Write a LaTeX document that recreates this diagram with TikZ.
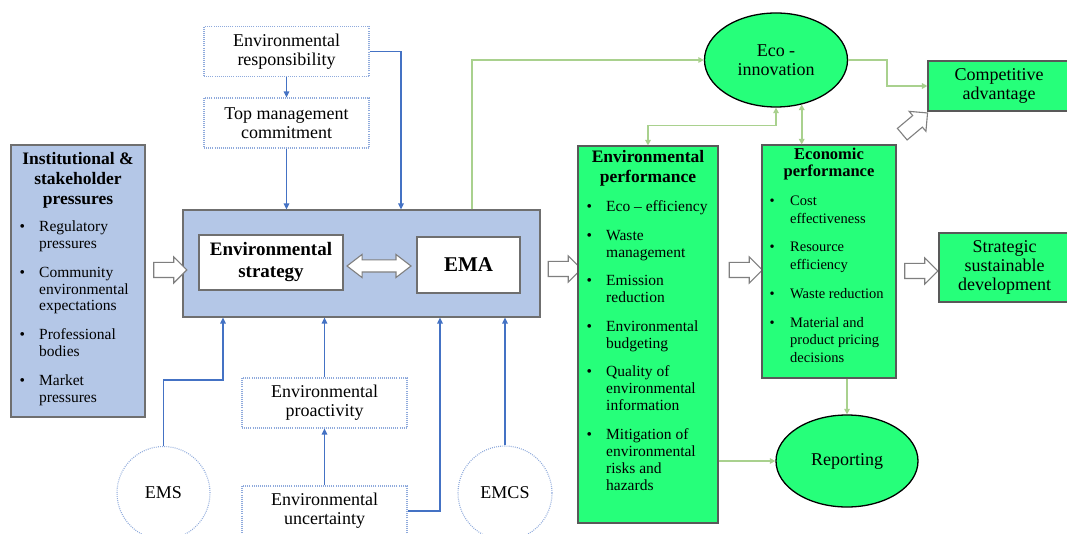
\documentclass[tikz,border=0pt]{standalone}
\usepackage{fontspec}
\setmainfont{Liberation Serif}
\usetikzlibrary{shapes.geometric,shapes.arrows,arrows.meta}
\definecolor{lblue}{HTML}{B4C7E7}
\definecolor{blueline}{HTML}{4472C4}
\definecolor{dotblue}{HTML}{8FAADC}
\definecolor{greenline}{HTML}{A9D18E}
\definecolor{bgreen}{RGB}{38,255,122}
\definecolor{boxgray}{HTML}{6F6F6F}
\definecolor{arrowgray}{HTML}{7F7F7F}
\newcommand\fmain{\fontsize{18}{19}\selectfont}
\tikzset{
  bl/.style={draw=blueline, line width=1.6pt, -{Triangle[length=6pt,width=5.5pt]}},
  gr/.style={draw=greenline, line width=1.6pt, -{Triangle[length=5.5pt,width=5.5pt]}},
  grboth/.style={draw=greenline, line width=1.6pt, {Triangle[length=5.5pt,width=5.5pt]}-{Triangle[length=5.5pt,width=5.5pt]}},
  dotbox/.style={draw=dotblue, dash pattern=on 0.9pt off 1.2pt, line width=1.1pt, minimum width=165pt, minimum height=50pt, align=center, font=\fmain, inner sep=0pt},
  dotcirc/.style={circle, draw=dotblue, dash pattern=on 0.9pt off 1.2pt, line width=1.1pt, font=\fmain, inner sep=0pt},
  bluebox/.style={draw=boxgray, fill=lblue, line width=1.1pt, inner sep=0pt},
  whitebox/.style={draw=boxgray, fill=white, line width=1.1pt, inner sep=0pt, align=center},
  greenbox/.style={draw=boxgray!80!black, fill=bgreen, line width=1.1pt, inner sep=0pt, align=center, font=\fmain},
  greenell/.style={ellipse, draw=black, fill=bgreen, line width=1.3pt, inner sep=0pt, align=center, font=\fmain},
  txt/.style={inner sep=0pt, align=center},
  lst/.style={inner sep=0pt, anchor=north west},
  blockarr/.style={single arrow, draw=arrowgray, fill=white, line width=1.1pt, minimum height=33pt, minimum width=1pt, inner xsep=0pt, inner ysep=7pt, single arrow head extend=5.5pt, single arrow head indent=0pt},
  dblarr/.style={double arrow, draw=arrowgray, fill=white, line width=1.1pt, minimum height=64pt, minimum width=1pt, inner xsep=0pt, inner ysep=5.5pt, double arrow head extend=5.5pt, double arrow tip angle=75}
}
\begin{document}
\begin{tikzpicture}[x=1pt,y=-1pt]
\useasboundingbox (0,0) rectangle (1067,534);
\clip (0,0) rectangle (1067,534);
\fill[white] (0,0) rectangle (1067,534);

% left box
\node[bluebox, minimum width=134pt, minimum height=272pt] (inst) at (78,281) {};
\node[txt, font=\bfseries\fontsize{17.5}{20}\selectfont] (insttitle) at (78,180) {Institutional \&\\stakeholder\\pressures};
\node[lst, font=\fontsize{15.5}{16.8}\selectfont] (instlist) at (19.5,219.7) {%
\begin{tabular}{@{}l@{}l@{}}
\makebox[19.5pt][l]{\textbullet} & Regulatory\\
 & pressures\\[12pt]
\makebox[19.5pt][l]{\textbullet} & Community\\
 & environmental\\
 & expectations\\[12pt]
\makebox[19.5pt][l]{\textbullet} & Professional\\
 & bodies\\[12pt]
\makebox[19.5pt][l]{\textbullet} & Market\\
 & pressures
\end{tabular}};

% top dotted boxes
\node[dotbox] (er) at (286.5,51.5) {Environmental\\responsibility};
\node[dotbox] (tm) at (286.5,123) {Top management\\commitment};

% big box
\node[bluebox, minimum width=357pt, minimum height=107pt] (big) at (361.5,263.5) {};
\node[whitebox, minimum width=144pt, minimum height=55pt, font=\bfseries\fontsize{19}{22}\selectfont] (es) at (271,262.5) {Environmental\\strategy};
\node[whitebox, minimum width=103pt, minimum height=56pt, font=\bfseries\fontsize{21}{24}\selectfont] (ema) at (468.5,265) {EMA};
\node[dblarr] (dbl) at (379,266) {};

% bottom elements
\node[dotbox] (pro) at (324.5,403) {Environmental\\proactivity};
\node[dotbox] (unc) at (324.5,511) {Environmental\\uncertainty};
\node[dotcirc, minimum size=93pt] (ems) at (163.5,493) {EMS};
\node[dotcirc, minimum size=94pt] (emcs) at (505,493) {EMCS};

% blue connectors
\draw[bl] (er.south) -- (tm.north);
\draw[bl] (tm.south) -- (tm.south |- big.north);
\draw[bl] (er.east) -| ([xshift=39.5pt]big.north);
\draw[bl] (ems.north) -- ++(0,-66) -| ([xshift=-138.5pt]big.south);
\draw[bl] (pro.north) -- (pro.north |- big.south);
\draw[bl] (unc.north) -- (pro.south);
\draw[bl] (unc.east) -| ([xshift=78.5pt]big.south);
\draw[bl] (emcs.north) -- (emcs.north |- big.south);

% block arrows
\node[blockarr] (a1) at (166.5,270) {};
\node[blockarr] (a2) at (561,269) {};
\node[blockarr] (a3) at (742,270) {};
\node[blockarr] (a4) at (917.5,271) {};
\node[blockarr, rotate=40] (a5) at (912,126) {};

% green elements
\node[greenell, minimum width=143pt, minimum height=94pt] (eco) at (776,60) {Eco -\\innovation};
\node[greenbox, minimum width=142pt, minimum height=50pt] (comp) at (999,86) {Competitive\\advantage};
\node[greenbox, minimum width=140pt, minimum height=377pt] (envperf) at (648,334.5) {};
\node[txt, font=\bfseries\fontsize{17.5}{20}\selectfont] (eptitle) at (648,168) {Environmental\\performance};
\node[lst, font=\fontsize{15.5}{17}\selectfont] (eplist) at (586.5,199.6) {%
\begin{tabular}{@{}l@{}l@{}}
\makebox[19.5pt][l]{\textbullet} & Eco -- efficiency\\[11.5pt]
\makebox[19.5pt][l]{\textbullet} & Waste\\
 & management\\[11.5pt]
\makebox[19.5pt][l]{\textbullet} & Emission\\
 & reduction\\[11.5pt]
\makebox[19.5pt][l]{\textbullet} & Environmental\\
 & budgeting\\[11.5pt]
\makebox[19.5pt][l]{\textbullet} & Quality of\\
 & environmental\\
 & information\\[11.5pt]
\makebox[19.5pt][l]{\textbullet} & Mitigation of\\
 & environmental\\
 & risks and\\
 & hazards
\end{tabular}};

\node[greenbox, minimum width=134pt, minimum height=233pt] (econ) at (829,261.5) {};
\node[txt, font=\bfseries\fontsize{16.5}{16.5}\selectfont] (ectitle) at (829,164) {Economic\\performance};
\node[lst, font=\fontsize{14.5}{17.7}\selectfont] (eclist) at (769.5,193) {%
\begin{tabular}{@{}l@{}l@{}}
\makebox[20.5pt][l]{\textbullet} & Cost\\
 & effectiveness\\[11pt]
\makebox[20.5pt][l]{\textbullet} & Resource\\
 & efficiency\\[11pt]
\makebox[20.5pt][l]{\textbullet} & Waste reduction\\[11pt]
\makebox[20.5pt][l]{\textbullet} & Material and\\
 & product pricing\\
 & decisions
\end{tabular}};

\node[greenbox, minimum width=131pt, minimum height=69pt] (strat) at (1004.5,267.5) {Strategic\\sustainable\\development};
\node[greenell, minimum width=142pt, minimum height=92pt] (report) at (847,461) {Reporting};

% green connectors
\draw[gr] ([xshift=110.5pt]big.north) |- (eco.west);
\draw[gr] (eco.east) -- ++(39,0) |- (comp.west);
\draw[grboth] (envperf.north) -- ++(0,-20) -| (eco.south);
\draw[grboth] (eco.-60) -- (eco.-60 |- econ.north);
\draw[gr] (report.north |- econ.south) -- (report.north);
\draw[gr] (envperf.east |- report.west) -- (report.west);
\end{tikzpicture}
\end{document}
